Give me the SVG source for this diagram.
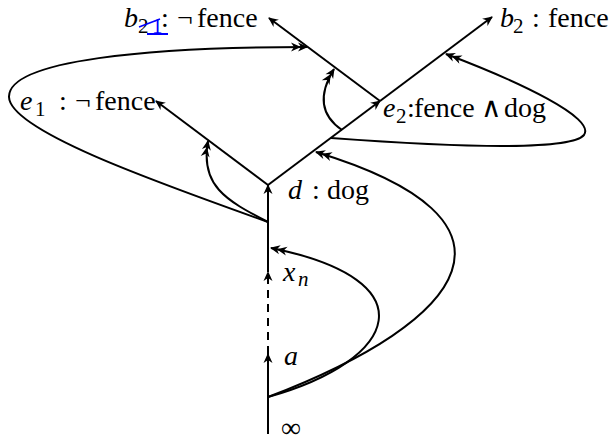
<svg xmlns="http://www.w3.org/2000/svg" width="613" height="445" viewBox="0 0 613 445">
<style>
.t{font-family:"Liberation Serif","Times New Roman","DejaVu Serif",serif;font-size:28px;fill:#000}
.i{font-style:italic}
.s{font-size:21px}
.e{fill:none;stroke:#000;stroke-width:2}
.c{fill:none;stroke:#000;stroke-width:2}
.dash{stroke-dasharray:8 6}
</style>
<defs>
<marker id="ah" markerUnits="userSpaceOnUse" markerWidth="20" markerHeight="20" viewBox="-16 -10 20 20" refX="0" refY="0" orient="auto" overflow="visible">
<path d="M1,0 L-9,-4.5 L-6,0 L-9,4.5 Z" fill="#000"/>
</marker>
<marker id="ah2" markerUnits="userSpaceOnUse" markerWidth="24" markerHeight="20" viewBox="-20 -10 24 20" refX="0" refY="0" orient="auto" overflow="visible">
<path d="M1,0 L-9,-4.5 L-6,0 L-9,4.5 Z M-6,0 L-16,-4.5 L-13,0 L-16,4.5 Z" fill="#000"/>
</marker>
</defs>
<rect width="613" height="445" fill="#fff"/>
<g id="connectors">
<line class="e" x1="268" y1="434" x2="268" y2="354" marker-end="url(#ah)"/>
<line class="e dash" x1="268" y1="354" x2="268" y2="272" marker-end="url(#ah)"/>
<line class="e" x1="268" y1="272" x2="268" y2="185" marker-end="url(#ah)"/>
<line class="e" x1="268" y1="185" x2="156" y2="101" marker-end="url(#ah)"/>
<line class="e" x1="268" y1="185" x2="380" y2="101" marker-end="url(#ah)"/>
<line class="e" x1="380" y1="101" x2="269" y2="18" marker-end="url(#ah)"/>
<line class="e" x1="380" y1="101" x2="492" y2="17" marker-end="url(#ah)"/>
<path class="c" d="M268,397 C400,360 430,280 271,248" marker-end="url(#ah2)"/>
<path class="c" d="M268,397 C470,320 540,220 316,152" marker-end="url(#ah2)"/>
<path class="c" d="M268,222 C225,200 200,185 208,141" marker-end="url(#ah2)"/>
<path class="c" d="M268,222 C150,180 10,130 9,97 C8,60 150,47 307,47" marker-end="url(#ah2)"/>
<path class="c" d="M342,130 C320,115 318,95 334,69" marker-end="url(#ah2)"/>
<path class="c" d="M331,138 C440,146 570,152 584,135 C596,118 520,82 446,54" marker-end="url(#ah2)"/>
</g>
<g id="n-inf"><text class="t" x="281" y="437">∞</text></g>
<g id="n-a"><text class="t i" x="284" y="365">a</text></g>
<g id="n-xn"><text class="t"><tspan class="i" x="283" y="281">x</tspan><tspan class="i s" x="298" y="286">n</tspan></text></g>
<g id="n-d"><text class="t"><tspan class="i" x="288" y="199">d</tspan><tspan x="312" y="199">:</tspan><tspan x="327" y="199">dog</tspan></text></g>
<g id="n-e1"><text class="t"><tspan class="i" x="20" y="110">e</tspan><tspan class="s" x="35" y="116">1</tspan><tspan x="59" y="110">:</tspan><tspan x="75" y="110">¬</tspan><tspan x="95" y="110">fence</tspan></text></g>
<g id="n-e2"><text class="t"><tspan class="i" x="383" y="117">e</tspan><tspan class="s" x="396" y="123">2</tspan><tspan x="407" y="117">:</tspan><tspan x="414" y="117">fence</tspan><tspan x="481" y="117">∧</tspan><tspan x="504" y="117">dog</tspan></text></g>
<g id="n-b21">
<text class="t"><tspan class="i" x="124" y="27">b</tspan><tspan class="s" x="138" y="33">2</tspan></text>
<text class="t s" x="152" y="33" style="fill:#00f">1</text>
<line x1="147" y1="34" x2="168" y2="34" stroke="#00f" stroke-width="2"/>
<line x1="139" y1="27" x2="160" y2="19" stroke="#00f" stroke-width="1.5"/>
<text class="t"><tspan x="161" y="27">:</tspan><tspan x="177" y="27">¬</tspan><tspan x="197" y="27">fence</tspan></text>
</g>
<g id="n-b2"><text class="t"><tspan class="i" x="500" y="27">b</tspan><tspan class="s" x="513" y="33">2</tspan><tspan x="532" y="27">:</tspan><tspan x="548" y="27">fence</tspan></text></g>
</svg>
